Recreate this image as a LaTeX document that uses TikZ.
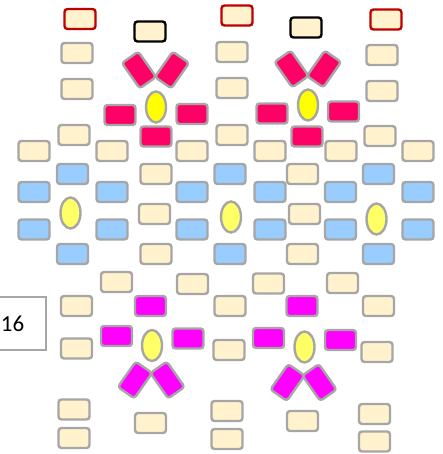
\documentclass[tikz,border=0pt]{standalone}
\usepackage{fontspec}
\setmainfont{Carlito}
\usetikzlibrary{shapes.geometric}
\definecolor{cream}{HTML}{FFF2CC}
\definecolor{edgegray}{HTML}{A6A6A6}
\definecolor{skyb}{HTML}{99CCFF}
\definecolor{crim}{HTML}{FF0066}
\definecolor{magen}{HTML}{FF00FF}
\definecolor{yel}{HTML}{FFFF00}
\definecolor{yell}{HTML}{FFFF66}
\definecolor{redb}{HTML}{C00000}
\begin{document}
\begin{tikzpicture}[x=1pt,y=-1pt,
 brick/.style={draw=edgegray, line width=2.4pt, rounded corners=3pt, minimum width=31pt, minimum height=20pt, inner sep=0pt, outer sep=0pt},
 creambox/.style={brick, fill=cream},
 bluebox/.style={brick, fill=skyb},
 crimbox/.style={brick, fill=crim},
 magbox/.style={brick, fill=magen},
 tilt/.style={brick, minimum width=31pt, minimum height=20pt},
 redbox/.style={creambox, draw=redb},
 blackbox/.style={creambox, draw=black},
 oval/.style={ellipse, draw=edgegray, line width=2.4pt, minimum width=20pt, minimum height=31pt, inner sep=0pt},
 labelbox/.style={draw=edgegray, line width=1.2pt, minimum width=51pt, minimum height=53pt, inner sep=0pt},
]
\useasboundingbox (0,0) rectangle (443,454);
% cream boxes
\foreach \x/\y [count=\i] in {77/53, 77/89, 74/135, 232/52, 232/88, 232/135, 382/55, 382/91, 380/136,
  34/151, 112/151, 192/151, 270/151, 341/151, 418/151,
  156/174, 154.5/214, 156/254, 302.5/174, 304.5/214, 302.5/254,
  116.5/282, 192.5/284, 268.5/283.5, 342.5/283,
  76.5/306, 230/306, 378.5/306, 76.5/348.5, 229/350, 377/352,
  74/409.5, 74/438, 150.5/423, 227/411, 227/439, 302.5/421, 374.5/414, 374.5/441.5}
  \node[creambox] (c\i) at (\x,\y) {};
% red and black bordered boxes
\foreach \x/\y [count=\i] in {80/19, 237/15.5, 386/19.5}
  \node[redbox] (r\i) at (\x,\y) {};
\foreach \x/\y [count=\i] in {150/31.5, 306/27.5}
  \node[blackbox] (k\i) at (\x,\y) {};
% blue boxes
\foreach \x/\y [count=\i] in {72.5/174, 34/192, 112/192, 192/192, 34/229.5, 112/229.5, 192/229.5, 72.5/254,
  230/174, 270/192, 340.5/192, 418/192, 270/229.5, 340.5/229.5, 418/229.5, 230/254, 378.5/174, 378.5/254}
  \node[bluebox] (u\i) at (\x,\y) {};
% crimson groups
\foreach \x/\y [count=\i] in {120/115, 192/114, 156/136.5, 272/113.5, 343.5/111.5, 307/136.5}
  \node[crimbox] (p\i) at (\x,\y) {};
\node[tilt, fill=crim, rotate=-55] (pt1) at (139,70) {};
\node[tilt, fill=crim, rotate=55] (pt2) at (172,70) {};
\node[tilt, fill=crim, rotate=-55] (pt3) at (291.5,69) {};
\node[tilt, fill=crim, rotate=55] (pt4) at (324,69) {};
% magenta groups
\foreach \x/\y [count=\i] in {150.5/306, 116.5/336, 188/338.5, 302/306, 268.5/338, 340.5/340}
  \node[magbox] (m\i) at (\x,\y) {};
\node[tilt, fill=magen, rotate=55] (mt1) at (135,380) {};
\node[tilt, fill=magen, rotate=-55] (mt2) at (167.5,380) {};
\node[tilt, fill=magen, rotate=55] (mt3) at (287.5,382.5) {};
\node[tilt, fill=magen, rotate=-55] (mt4) at (319.5,382.5) {};
% ellipses
\node[oval, fill=yel] (e1) at (156,107) {};
\node[oval, fill=yel] (e2) at (308,105) {};
\node[oval, fill=yell] (e3) at (70.5,213) {};
\node[oval, fill=yell] (e4) at (231,217) {};
\node[oval, fill=yell] (e5) at (376.5,219) {};
\node[oval, fill=yell] (e6) at (152,345.5) {};
\node[oval, fill=yell] (e7) at (304.5,347) {};
% label box
\node[labelbox] (lb) at (20.5,323.5) {};
\node[anchor=east, inner sep=0pt, font=\fontsize{23}{26}\selectfont] (lt) at (24.5,324) {16};
\end{tikzpicture}
\end{document}
